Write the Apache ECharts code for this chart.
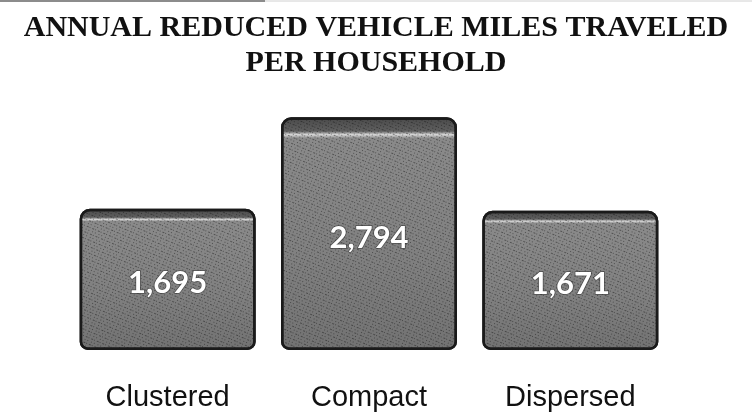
<!DOCTYPE html>
<html>
<head>
<meta charset="utf-8">
<script src="https://cdn.jsdelivr.net/npm/echarts@6/dist/echarts.min.js"></script>
<style>
  html, body { margin: 0; padding: 0; background: #fff; }
  #main { width: 752px; height: 415px; }
</style>
</head>
<body>
<div id="main"></div>
<script>
var categories = ['Clustered', 'Compact', 'Dispersed'];
var milesReduced = [1695, 2794, 1671];

var chart = echarts.init(document.getElementById('main'));

// gray "3D box" look: dark top rim, thin light edge, then the face
var boxFill = new echarts.graphic.LinearGradient(0, 0, 0, 1, [
    { offset: 0, color: '#4a4a4a' },
    { offset: 0.06, color: '#5e5e5e' },
    { offset: 0.075, color: '#d8d8d8' },
    { offset: 0.09, color: '#8a8a8a' },
    { offset: 0.6, color: '#808080' },
    { offset: 1, color: '#727272' }
]);

var option = {
    backgroundColor: '#ffffff',
    title: {
        text: 'ANNUAL REDUCED VEHICLE MILES TRAVELED\nPER HOUSEHOLD',
        left: 'center',
        top: 6,
        textStyle: {
            fontFamily: 'Liberation Serif',
            fontWeight: 'bold',
            fontSize: 30,
            lineHeight: 35,
            color: '#111'
        }
    },
    graphic: [{
        type: 'line',
        shape: { x1: 0, y1: 1, x2: 265, y2: 1 },
        style: { stroke: '#666', lineWidth: 1.5 }
    }, {
        type: 'line',
        shape: { x1: 265, y1: 1, x2: 752, y2: 1 },
        style: { stroke: '#d0d0d0', lineWidth: 1 }
    }],
    grid: {
        left: 67,
        right: 81,
        top: 100,
        bottom: 65
    },
    xAxis: {
        type: 'category',
        data: categories,
        axisLine: { show: false },
        axisTick: { show: false },
        axisLabel: {
            margin: 33,
            fontFamily: 'Liberation Sans',
            fontSize: 29,
            color: '#111'
        }
    },
    yAxis: {
        type: 'value',
        min: 0,
        max: 3000,
        show: false,
        splitLine: { show: false }
    },
    series: [{
        type: 'bar',
        name: 'Reduced VMT',
        data: milesReduced,
        barWidth: 176,
        itemStyle: {
            color: boxFill,
            borderColor: '#1a1a1a',
            borderWidth: 2.5,
            borderRadius: [9, 9, 7, 7],
            decal: {
                symbol: 'rect',
                symbolSize: 1,
                color: 'rgba(15,15,15,0.45)',
                dashArrayX: [[1, 2, 1, 3], [2, 1, 1, 2]],
                dashArrayY: [1, 2],
                rotation: 0.4
            }
        },
        label: {
            show: true,
            position: 'inside',
            offset: [0, 4],
            formatter: function (p) {
                return p.value.toLocaleString('en-US');
            },
            fontFamily: 'Lato',
            fontWeight: 'bold',
            fontSize: 31,
            color: '#ffffff',
            textBorderColor: 'rgba(40,40,40,0.6)',
            textBorderWidth: 1.5
        }
    }]
};

chart.setOption(option);
</script>
</body>
</html>
